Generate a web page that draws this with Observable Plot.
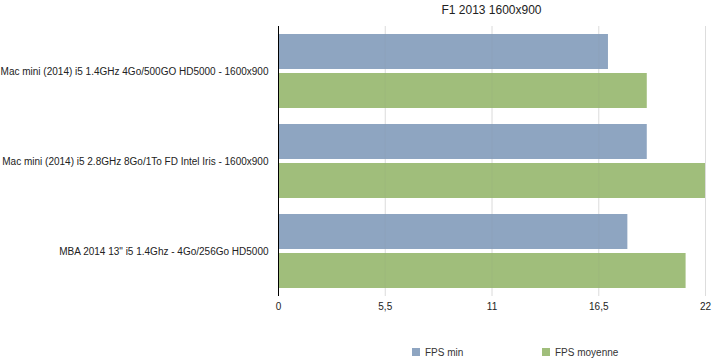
<!DOCTYPE html>
<html>
<head>
<meta charset="utf-8">
<script src="https://cdn.jsdelivr.net/npm/d3@7"></script>
<script src="https://cdn.jsdelivr.net/npm/@observablehq/plot@0.6"></script>
<style>
  body { margin: 0; background: #fff; font-family: "Liberation Sans", Arial, sans-serif; }
  #wrap { width: 712px; height: 358px; position: relative; overflow: hidden; }
  #title { height: 20px; line-height: 20px; font-size: 12px; color: #222; text-align: center; margin-left: 278px; width: 427px; }
  #legend { position: absolute; top: 346px; left: 0; width: 712px; height: 12px; font-size: 10px; color: #333; }
  .item { position: absolute; top: 0; display: flex; align-items: center; height: 12px; }
  .sw { width: 8px; height: 8px; margin-right: 5px; }
</style>
</head>
<body>
<div id="wrap">
  <div id="title">F1 2013 1600x900</div>
  <div id="chart"></div>
  <div id="legend"></div>
</div>
<script>
const categories = [
  "Mac mini (2014) i5 1.4GHz 4Go/500GO HD5000 - 1600x900",
  "Mac mini (2014) i5 2.8GHz 8Go/1To FD Intel Iris - 1600x900",
  "MBA 2014 13\" i5 1.4Ghz - 4Go/256Go HD5000"
];
const seriesNames = ["FPS min", "FPS moyenne"];
const fpsMin = [17, 19, 18];
const fpsMoyenne = [19, 22, 21];
const xTicks = [0, 5.5, 11, 16.5, 22];
const colors = ["#8ea5c1", "#a0be7b"];

const data = [];
categories.forEach((c, i) => {
  data.push({ category: c, series: seriesNames[0], value: fpsMin[i] });
  data.push({ category: c, series: seriesNames[1], value: fpsMoyenne[i] });
});

const fmt = d => String(d).replace(".", ",");

const chart = Plot.plot({
  width: 712,
  height: 300,
  marginTop: 5,
  marginBottom: 24,
  marginLeft: 278,
  marginRight: 7,
  style: { fontFamily: "Liberation Sans, Arial, sans-serif", fontSize: "10px", color: "#222" },
  x: { domain: [0, 22], ticks: xTicks, tickFormat: fmt, tickSize: 0, tickPadding: 6, label: null },
  y: { domain: seriesNames, axis: null, paddingInner: 0.1, paddingOuter: 0.18 },
  fy: { domain: categories, padding: 0, tickSize: 0, tickPadding: 10, label: null },
  color: { domain: seriesNames, range: colors },
  marks: [
    Plot.gridX(xTicks.slice(1), { stroke: "#e4e4e4", strokeOpacity: 1 }),
    Plot.barX(data, { fy: "category", y: "series", x: "value", fill: "series" }),
    Plot.gridX(xTicks.slice(1), { stroke: "#888", strokeOpacity: 0.08 }),
    Plot.ruleX([0], { stroke: "#000" })
  ]
});
document.getElementById("chart").appendChild(chart);

const legend = document.getElementById("legend");
const lx = [412, 542];
seriesNames.forEach((s, i) => {
  const it = document.createElement("div");
  it.className = "item";
  it.style.left = lx[i] + "px";
  it.innerHTML = `<div class="sw" style="background:${colors[i]}"></div><span>${s}</span>`;
  legend.appendChild(it);
});
</script>
</body>
</html>
